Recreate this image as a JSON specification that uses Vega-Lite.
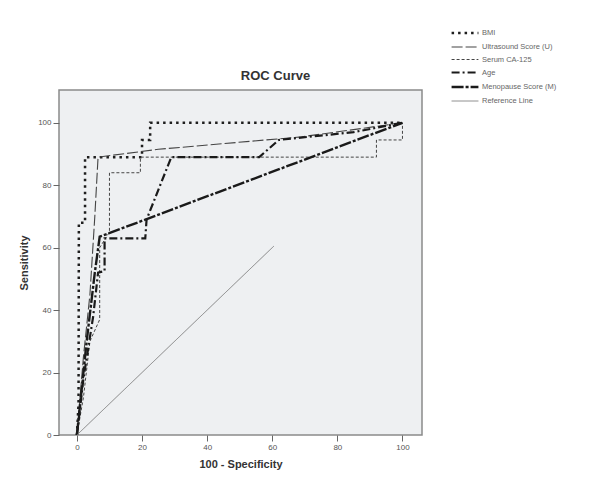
{
  "$schema": "https://vega.github.io/schema/vega-lite/v6.json",
  "autosize": {"type": "none"},
  "width": 363,
  "height": 345,
  "padding": {"left": 59, "top": 90, "right": 181, "bottom": 42},
  "background": "#ffffff",
  "title": {"text": "ROC Curve", "font": "Liberation Sans", "fontSize": 13, "fontWeight": "bold", "color": "#333333", "offset": -58, "dx": 35},
  "config": {
    "view": {"fill": "#eef0f2", "stroke": "#8a8a8a", "strokeWidth": 1.5},
    "axis": {"grid": false, "domain": false, "tickColor": "#666666", "tickSize": 6, "labelFont": "Liberation Sans", "labelFontSize": 8, "labelColor": "#555555", "titleFont": "Liberation Sans", "titleFontSize": 11, "titleFontWeight": "bold", "titleColor": "#333333"}
  },
  "data": {"values": [
    {"s": "BMI", "o": 1, "x": 0, "y": 0},
    {"s": "BMI", "o": 2, "x": 0.5, "y": 10},
    {"s": "BMI", "o": 3, "x": 0.6, "y": 68},
    {"s": "BMI", "o": 4, "x": 2.5, "y": 68},
    {"s": "BMI", "o": 5, "x": 2.5, "y": 89},
    {"s": "BMI", "o": 6, "x": 20, "y": 89},
    {"s": "BMI", "o": 7, "x": 20, "y": 94.5},
    {"s": "BMI", "o": 8, "x": 22.5, "y": 94.5},
    {"s": "BMI", "o": 9, "x": 22.5, "y": 100},
    {"s": "BMI", "o": 10, "x": 100, "y": 100},
    {"s": "Ultrasound Score (U)", "o": 1, "x": 0, "y": 0},
    {"s": "Ultrasound Score (U)", "o": 2, "x": 2, "y": 25},
    {"s": "Ultrasound Score (U)", "o": 3, "x": 4, "y": 45},
    {"s": "Ultrasound Score (U)", "o": 4, "x": 5.5, "y": 70},
    {"s": "Ultrasound Score (U)", "o": 5, "x": 6.5, "y": 89},
    {"s": "Ultrasound Score (U)", "o": 6, "x": 25, "y": 91.5},
    {"s": "Ultrasound Score (U)", "o": 7, "x": 69, "y": 95.5},
    {"s": "Ultrasound Score (U)", "o": 8, "x": 100, "y": 100},
    {"s": "Serum CA-125", "o": 1, "x": 0, "y": 0},
    {"s": "Serum CA-125", "o": 2, "x": 2, "y": 12},
    {"s": "Serum CA-125", "o": 3, "x": 4, "y": 30},
    {"s": "Serum CA-125", "o": 4, "x": 7, "y": 37},
    {"s": "Serum CA-125", "o": 5, "x": 7, "y": 60},
    {"s": "Serum CA-125", "o": 6, "x": 10, "y": 65},
    {"s": "Serum CA-125", "o": 7, "x": 10, "y": 84},
    {"s": "Serum CA-125", "o": 8, "x": 19.5, "y": 84},
    {"s": "Serum CA-125", "o": 9, "x": 19.5, "y": 89},
    {"s": "Serum CA-125", "o": 10, "x": 92, "y": 89},
    {"s": "Serum CA-125", "o": 11, "x": 92, "y": 94.5},
    {"s": "Serum CA-125", "o": 12, "x": 100, "y": 94.5},
    {"s": "Serum CA-125", "o": 13, "x": 100, "y": 100},
    {"s": "Age", "o": 1, "x": 0, "y": 0},
    {"s": "Age", "o": 2, "x": 2, "y": 18},
    {"s": "Age", "o": 3, "x": 5, "y": 38},
    {"s": "Age", "o": 4, "x": 6.5, "y": 52},
    {"s": "Age", "o": 5, "x": 8.5, "y": 52.5},
    {"s": "Age", "o": 6, "x": 8.5, "y": 63},
    {"s": "Age", "o": 7, "x": 21, "y": 63},
    {"s": "Age", "o": 8, "x": 21.4, "y": 69},
    {"s": "Age", "o": 9, "x": 29, "y": 89},
    {"s": "Age", "o": 10, "x": 56, "y": 89},
    {"s": "Age", "o": 11, "x": 62, "y": 94.5},
    {"s": "Age", "o": 12, "x": 85, "y": 97},
    {"s": "Age", "o": 13, "x": 100, "y": 100},
    {"s": "Menopause Score (M)", "o": 1, "x": 0, "y": 0},
    {"s": "Menopause Score (M)", "o": 2, "x": 1, "y": 10},
    {"s": "Menopause Score (M)", "o": 3, "x": 3, "y": 30},
    {"s": "Menopause Score (M)", "o": 4, "x": 5.5, "y": 52},
    {"s": "Menopause Score (M)", "o": 5, "x": 7, "y": 63.5},
    {"s": "Menopause Score (M)", "o": 6, "x": 100, "y": 100},
    {"s": "Reference Line", "o": 1, "x": 0, "y": 0},
    {"s": "Reference Line", "o": 2, "x": 60.5, "y": 60.5}
  ]},
  "mark": {"type": "line", "clip": true},
  "encoding": {
    "x": {"field": "x", "type": "quantitative", "title": "100 - Specificity", "scale": {"domain": [-5.5, 106], "nice": false, "zero": false}, "axis": {"values": [0, 20, 40, 60, 80, 100], "labelPadding": 2, "titlePadding": 7}},
    "y": {"field": "y", "type": "quantitative", "title": "Sensitivity", "scale": {"domain": [0, 110.5], "nice": false}, "axis": {"values": [0, 20, 40, 60, 80, 100], "labelPadding": 2, "titlePadding": 8}},
    "order": {"field": "o", "type": "quantitative"},
    "detail": {"field": "s"},
    "color": {"field": "s", "type": "nominal", "title": null,
      "scale": {"domain": ["BMI", "Ultrasound Score (U)", "Serum CA-125", "Age", "Menopause Score (M)", "Reference Line"], "range": ["#1e1e1e", "#444444", "#444444", "#1a1a1a", "#1a1a1a", "#808080"]},
      "legend": {"orient": "none", "legendX": 398, "legendY": -65, "symbolType": "M-2,0H2", "symbolSize": 180, "labelFont": "Liberation Sans", "labelFontSize": 7.5, "labelColor": "#666666", "rowPadding": 1.5, "labelOffset": 9}},
    "strokeDash": {"field": "s", "type": "nominal", "title": null,
      "scale": {"domain": ["BMI", "Ultrasound Score (U)", "Serum CA-125", "Age", "Menopause Score (M)", "Reference Line"], "range": [[2.5, 4], [11, 3], [3, 2], [8, 3, 2, 3], [12, 2, 3, 2], [1, 0]]}},
    "strokeWidth": {"field": "s", "type": "nominal", "title": null,
      "scale": {"type": "ordinal", "domain": ["BMI", "Ultrasound Score (U)", "Serum CA-125", "Age", "Menopause Score (M)", "Reference Line"], "range": [2.5, 1.1, 1, 2.2, 2.4, 1]}}
  }
}
